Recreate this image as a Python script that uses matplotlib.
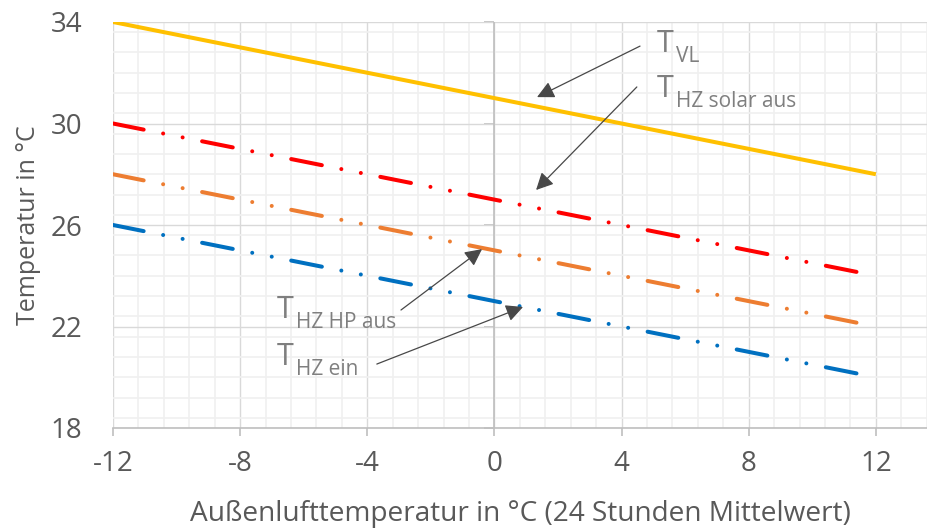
import numpy as np
import matplotlib.pyplot as plt
from matplotlib.ticker import MultipleLocator

# data: heating curves over outside air temperature
t_aussen = [-12, 12]
t_vl = [34, 28]
t_hz_solar_aus = [30, 24]
t_hz_hp_aus = [28, 22]
t_hz_ein = [26, 20]

x_ticks = [-12, -8, -4, 0, 4, 8, 12]
y_ticks = [18, 22, 26, 30, 34]

GREY_TXT = "#595959"
GREY_ANN = "#7F7F7F"

plt.rcParams['font.family'] = ['Open Sans', 'DejaVu Sans']
plt.rcParams['lines.scale_dashes'] = False
plt.rcParams['axes.unicode_minus'] = False

fig = plt.figure(figsize=(9.28, 5.29), dpi=100)
W, H = 928, 529
ax = fig.add_axes([113 / W, 1 - 428 / H, 1 - 113 / W, (428 - 22) / H])

ax.set_xlim(-12, 13.64)
ax.set_ylim(18, 34)

# grid
ax.xaxis.set_minor_locator(MultipleLocator(0.8))
ax.yaxis.set_minor_locator(MultipleLocator(0.8))
ax.set_xticks(x_ticks)
ax.set_yticks(y_ticks)
ax.grid(which='major', color='#D9D9D9', lw=1.0, zorder=0)
ax.grid(which='minor', color='#F0F0F0', lw=1.2, zorder=0)
ax.set_axisbelow(True)

for s in ['top', 'right', 'left']:
    ax.spines[s].set_visible(False)
ax.spines['bottom'].set_color('#BFBFBF')
ax.spines['bottom'].set_linewidth(1.2)

ax.tick_params(axis='x', which='major', length=6, color='#BFBFBF', width=1.2,
               labelsize=20, labelcolor=GREY_TXT, pad=10)
ax.tick_params(axis='y', which='major', length=0, labelsize=20,
               labelcolor=GREY_TXT, pad=22)
ax.tick_params(which='minor', length=0)

# vertical axis line crossing at x = 0
ax.axvline(0, color='#BFBFBF', lw=1.2, zorder=1)
x0 = (0 - ax.get_xlim()[0]) / (ax.get_xlim()[1] - ax.get_xlim()[0])
sec = ax.secondary_yaxis(x0)
sec.spines['left'].set_visible(False)
sec.set_yticks(y_ticks)
sec.tick_params(length=7, color='#BFBFBF', width=1.2, labelleft=False)

# curves
ax.plot(t_aussen, t_vl, color='#FFC000', lw=2.9, solid_capstyle='butt', zorder=3)
dash = (0, (22.5, 14.3, 0.01, 14.3, 0.01, 14.3))
ax.plot(t_aussen, t_hz_solar_aus, color='#FF0000', lw=2.9, ls=dash,
        dash_capstyle='round', zorder=3)
ax.plot(t_aussen, t_hz_hp_aus, color='#ED7D31', lw=2.9, ls=dash,
        dash_capstyle='round', zorder=3)
ax.plot(t_aussen, t_hz_ein, color='#0070C0', lw=2.9, ls=dash,
        dash_capstyle='round', zorder=3)

ax.set_xlabel('Außenlufttemperatur in °C (24 Stunden Mittelwert)',
              fontsize=20.2, color=GREY_TXT, labelpad=16)
ax.set_ylabel('Temperatur in °C', fontsize=18, color=GREY_TXT, labelpad=7)


def label(x, y, sub):
    ax.text(x, y, 'T', fontsize=22, color=GREY_ANN, va='baseline', ha='left')
    ax.annotate(sub, xy=(x, y), xytext=(13.5, -7.2), textcoords='offset points',
                fontsize=15, color=GREY_ANN, va='baseline', ha='left')


def arrow(start, tip):
    ax.annotate('', xy=tip, xytext=start,
                arrowprops=dict(arrowstyle='-|>', color='#484848', lw=0.9,
                                mutation_scale=26, shrinkA=0, shrinkB=0),
                zorder=5)


label(5.11, 32.82, 'VL')
label(5.11, 31.05, 'HZ solar aus')
label(-6.84, 22.34, 'HZ HP aus')
label(-6.84, 20.48, 'HZ ein')

arrow((4.58, 33.05), (1.34, 31.04))
arrow((4.48, 31.44), (1.31, 27.38))
arrow((-2.94, 22.65), (-0.39, 25.05))
arrow((-3.70, 20.52), (0.90, 22.77))

fig.savefig('out.png', dpi=100)
